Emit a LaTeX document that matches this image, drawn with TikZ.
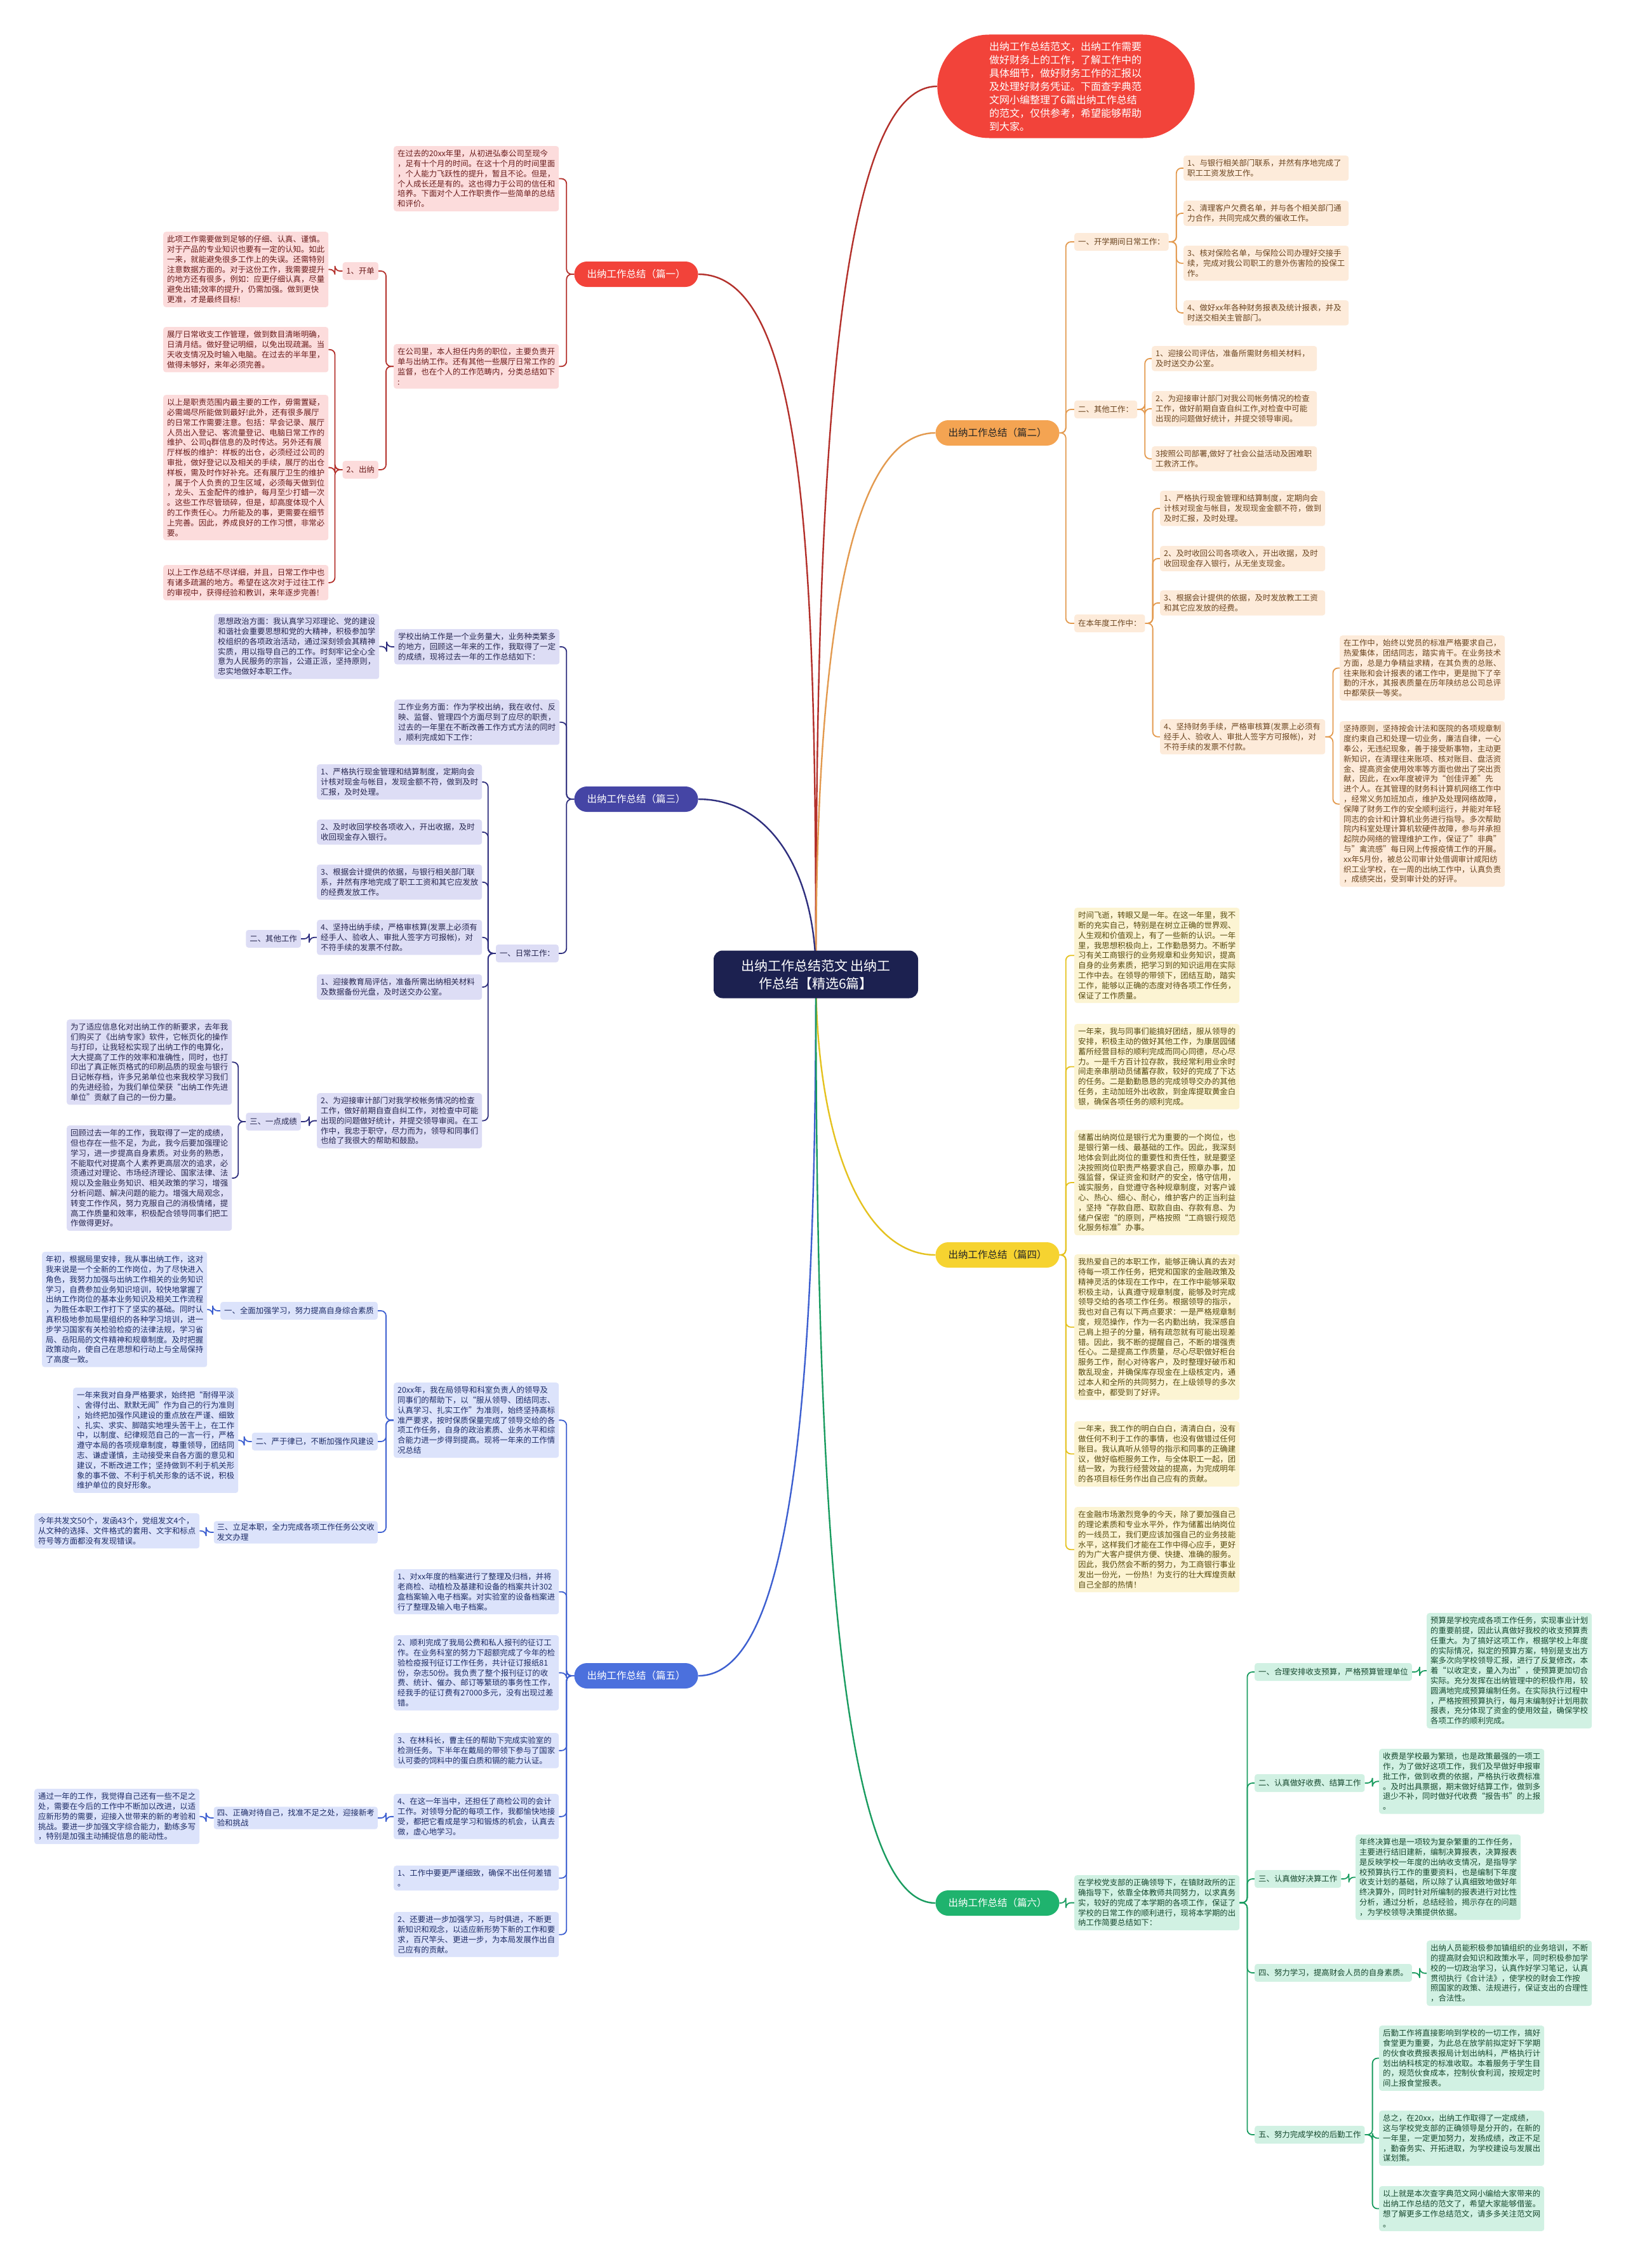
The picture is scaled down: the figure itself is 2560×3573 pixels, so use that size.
\documentclass[tikz,border=0pt]{standalone}
\usepackage{fontspec}
\setmainfont{Noto Sans CJK SC}
\usetikzlibrary{shapes.misc,calc,backgrounds}
\definecolor{crl}{HTML}{B3302B}\definecolor{crf}{HTML}{FCDCDC}\definecolor{crt}{HTML}{6A1C1C}\definecolor{crp}{HTML}{F2433A}
\definecolor{col}{HTML}{E39A4F}\definecolor{cof}{HTML}{FDEBDA}\definecolor{cot}{HTML}{6B4520}\definecolor{cop}{HTML}{F4A452}
\definecolor{cpl}{HTML}{2F2F7E}\definecolor{cpf}{HTML}{DDDDF5}\definecolor{cpt}{HTML}{26264F}\definecolor{cpp}{HTML}{4545A5}
\definecolor{cyl}{HTML}{E5C21F}\definecolor{cyf}{HTML}{FCF4D3}\definecolor{cyt}{HTML}{574A10}\definecolor{cyp}{HTML}{F6D330}
\definecolor{cbl}{HTML}{3D5FD0}\definecolor{cbf}{HTML}{DCE3FB}\definecolor{cbt}{HTML}{1E2C66}\definecolor{cbp}{HTML}{4B70DD}
\definecolor{cgl}{HTML}{1A9C60}\definecolor{cgf}{HTML}{D1F1E3}\definecolor{cgt}{HTML}{17492F}\definecolor{cgp}{HTML}{1FB36E}
\definecolor{ccen}{HTML}{1C2150}
\begin{document}
\begin{tikzpicture}[x=1pt,y=-1pt,
  tb/.style={rounded corners=4pt, inner xsep=6pt, inner ysep=6pt, align=left, anchor=north west, text width=248pt, font=\fontsize{12.4}{15.8}\selectfont},
  lb/.style={rounded corners=4pt, inner xsep=6pt, inner ysep=4pt, minimum height=28pt, font=\fontsize{12.4}{15.8}\selectfont},
  lb2/.style={lb, text width=248pt, align=left, inner xsep=5pt},
  pill/.style={rounded rectangle, minimum width=195pt, minimum height=40pt, inner sep=0pt, font=\fontsize{15.5}{18}\selectfont},
  R/.style={fill=crf, text=crt}, O/.style={fill=cof, text=cot}, P/.style={fill=cpf, text=cpt},
  Y/.style={fill=cyf, text=cyt}, B/.style={fill=cbf, text=cbt}, G/.style={fill=cgf, text=cgt},
  mc/.style={line width=2.4pt},
  cn/.style={line width=1.8pt, rounded corners=8pt}]
\useasboundingbox (0,0) rectangle (2560,3573);

% central
\node[fill=ccen, text=white, rounded corners=14pt, minimum width=322pt, minimum height=75pt, align=center, font=\fontsize{21}{28}\selectfont] (c) at (1285,1535) {出纳工作总结范文 出纳工\\作总结【精选6篇】};

% intro
\node[rounded rectangle, fill=crp, text=white, minimum width=412pt, minimum height=163pt, text width=242pt, align=left, font=\fontsize{16}{21}\selectfont] (intro) at (1679,136) {出纳工作总结范文，出纳工作需要\\做好财务上的工作，了解工作中的\\具体细节，做好财务工作的汇报以\\及处理好财务凭证。下面查字典范\\文网小编整理了6篇出纳工作总结\\的范文，仅供参考，希望能够帮助\\到大家。};

% pills
\node[pill, fill=crp, text=white] (p1) at (1002,432) {出纳工作总结（篇一）};
\node[pill, fill=cop, text=black!85] (p2) at (1571,682) {出纳工作总结（篇二）};
\node[pill, fill=cpp, text=white] (p3) at (1002,1259) {出纳工作总结（篇三）};
\node[pill, fill=cyp, text=black!85] (p4) at (1571,1977) {出纳工作总结（篇四）};
\node[pill, fill=cbp, text=white] (p5) at (1002,2640) {出纳工作总结（篇五）};
\node[pill, fill=cgp, text=white] (p6) at (1571,2998) {出纳工作总结（篇六）};

% ===== 篇一 =====
\node[tb,R] (a1) at (620,230) {在过去的20xx年里，从初进弘泰公司至现今\\，足有十个月的时间。在这十个月的时间里面\\，个人能力飞跃性的提升，暂且不论。但是，\\个人成长还是有的。这也得力于公司的信任和\\培养。下面对个人工作职责作一些简单的总结\\和评价。};
\node[tb,R] (a2) at (620,542) {在公司里，本人担任内务的职位，主要负责开\\单与出纳工作。还有其他一些展厅日常工作的\\监督，也在个人的工作范畴内，分类总结如下\\:};
\node[lb,R,anchor=east] (a21) at (596,427) {1、开单};
\node[lb,R,anchor=east] (a22) at (596,740) {2、出纳};
\node[tb,R] (a211) at (257,365) {此项工作需要做到足够的仔细、认真、谨慎。\\对于产品的专业知识也要有一定的认知。如此\\一来，就能避免很多工作上的失误。还需特别\\注意数据方面的。对于这份工作，我需要提升\\的地方还有很多，例如：应更仔细认真，尽量\\避免出错;效率的提升，仍需加强。做到更快\\更准，才是最终目标!};
\node[tb,R] (a221) at (257,515) {展厅日常收支工作管理，做到数目清晰明确，\\日清月结。做好登记明细，以免出现疏漏。当\\天收支情况及时输入电脑。在过去的半年里，\\做得未够好，来年必须完善。};
\node[tb,R] (a222) at (257,622) {以上是职责范围内最主要的工作，毋需置疑，\\必需竭尽所能做到最好!此外，还有很多展厅\\的日常工作需要注意。包括：早会记录、展厅\\人员出入登记、客流量登记、电脑日常工作的\\维护、公司q群信息的及时传达。另外还有展\\厅样板的维护：样板的出仓，必须经过公司的\\审批，做好登记以及相关的手续，展厅的出仓\\样板，需及时作好补充。还有展厅卫生的维护\\，属于个人负责的卫生区域，必须每天做到位\\，龙头、五金配件的维护，每月至少打蜡一次\\。这些工作尽管琐碎，但是，却高度体现个人\\的工作责任心。力所能及的事，更需要在细节\\上完善。因此，养成良好的工作习惯，非常必\\要。};
\node[tb,R] (a223) at (257,890) {以上工作总结不尽详细，并且，日常工作中也\\有诸多疏漏的地方。希望在这次对于过往工作\\的审视中，获得经验和教训，来年逐步完善!};

% ===== 篇二 =====
\node[lb,O,anchor=west] (b1) at (1692,381) {一、开学期间日常工作：};
\node[tb,O] (b11) at (1864,245) {1、与银行相关部门联系，并然有序地完成了\\职工工资发放工作。};
\node[tb,O] (b12) at (1864,316) {2、清理客户欠费名单，并与各个相关部门通\\力合作，共同完成欠费的催收工作。};
\node[tb,O] (b13) at (1864,387) {3、核对保险名单，与保险公司办理好交接手\\续，完成对我公司职工的意外伤害险的投保工\\作。};
\node[tb,O] (b14) at (1864,473) {4、做好xx年各种财务报表及统计报表，并及\\时送交相关主管部门。};
\node[lb,O,anchor=west] (b2) at (1692,645) {二、其他工作：};
\node[tb,O] (b21) at (1814,545) {1、迎接公司评估，准备所需财务相关材料，\\及时送交办公室。};
\node[tb,O] (b22) at (1814,616) {2、为迎接审计部门对我公司帐务情况的检查\\工作，做好前期自查自纠工作,对检查中可能\\出现的问题做好统计，并提交领导审阅。};
\node[tb,O] (b23) at (1814,703) {3按照公司部署,做好了社会公益活动及困难职\\工救济工作。};
\node[lb,O,anchor=west] (b3) at (1692,982) {在本年度工作中：};
\node[tb,O] (b31) at (1827,773) {1、严格执行现金管理和结算制度，定期向会\\计核对现金与帐目，发现现金金额不符，做到\\及时汇报，及时处理。};
\node[tb,O] (b32) at (1827,860) {2、及时收回公司各项收入，开出收据，及时\\收回现金存入银行，从无坐支现金。};
\node[tb,O] (b33) at (1827,930) {3、根据会计提供的依据，及时发放教工工资\\和其它应发放的经费。};
\node[tb,O] (b34) at (1827,1133) {4、坚持财务手续，严格审核算(发票上必须有\\经手人、验收人、审批人签字方可报帐)，对\\不符手续的发票不付款。};
\node[tb,O] (b341) at (2110,1001) {在工作中，始终以党员的标准严格要求自己，\\热爱集体，团结同志，踏实肯干。在业务技术\\方面，总是力争精益求精，在其负责的总账、\\往来账和会计报表的诸工作中，更是抛下了辛\\勤的汗水，其报表质量在历年陕纺总公司总评\\中都荣获一等奖。};
\node[tb,O] (b342) at (2110,1136) {坚持原则，坚持按会计法和医院的各项规章制\\度约束自己和处理一切业务，廉洁自律，一心\\奉公，无违纪现象，善于接受新事物，主动更\\新知识，在清理往来账项、核对账目、盘活资\\金、提高资金使用效率等方面也做出了突出贡\\献，因此，在xx年度被评为“创佳评差”先\\进个人。在其管理的财务科计算机网络工作中\\，经常义务加班加点，维护及处理网络故障，\\保障了财务工作的安全顺利运行，并能对年轻\\同志的会计和计算机业务进行指导。多次帮助\\院内科室处理计算机软硬件故障，参与并承担\\起院办网络的管理维护工作，保证了”非典”\\与”禽流感”每日网上传报疫情工作的开展。\\xx年5月份，被总公司审计处借调审计咸阳纺\\织工业学校，在一周的出纳工作中，认真负责\\，成绩突出，受到审计处的好评。};

% ===== 篇三 =====
\node[tb,P] (c1) at (621,991) {学校出纳工作是一个业务量大，业务种类繁多\\的地方，回顾这一年来的工作，我取得了一定\\的成绩，现将过去一年的工作总结如下：};
\node[tb,P] (c11) at (337,967) {思想政治方面：我认真学习邓理论、党的建设\\和谐社会重要思想和党的大精神，积极参加学\\校组织的各项政治活动，通过深刻领会其精神\\实质，用以指导自己的工作。时刻牢记全心全\\意为人民服务的宗旨，公道正派，坚持原则，\\忠实地做好本职工作。};
\node[tb,P] (c2) at (621,1102) {工作业务方面：作为学校出纳，我在收付、反\\映、监督、管理四个方面尽到了应尽的职责，\\过去的一年里在不断改善工作方式方法的同时\\，顺利完成如下工作：};
\node[lb,P,anchor=east] (c3) at (880,1502) {一、日常工作：};
\node[tb,P] (c31) at (499,1204) {1、严格执行现金管理和结算制度，定期向会\\计核对现金与帐目，发现金额不符，做到及时\\汇报，及时处理。};
\node[tb,P] (c32) at (499,1291) {2、及时收回学校各项收入，开出收据，及时\\收回现金存入银行。};
\node[tb,P] (c33) at (499,1362) {3、根据会计提供的依据，与银行相关部门联\\系，井然有序地完成了职工工资和其它应发放\\的经费发放工作。};
\node[tb,P] (c34) at (499,1449) {4、坚持出纳手续，严格审核算(发票上必须有\\经手人、验收人、审批人签字方可报帐)，对\\不符手续的发票不付款。};
\node[lb,P,anchor=east] (c341) at (474,1479) {二、其他工作};
\node[tb,P] (c35) at (499,1535) {1、迎接教育局评估，准备所需出纳相关材料\\及数据备份光盘，及时送交办公室。};
\node[tb,P] (c36) at (499,1722) {2、为迎接审计部门对我学校帐务情况的检查\\工作，做好前期自查自纠工作，对检查中可能\\出现的问题做好统计，并提交领导审阅。在工\\作中，我忠于职守，尽力而为，领导和同事们\\也给了我很大的帮助和鼓励。};
\node[lb,P,anchor=east] (c36l) at (474,1767) {三、一点成绩};
\node[tb,P] (c361) at (105,1606) {为了适应信息化对出纳工作的新要求，去年我\\们购买了《出纳专家》软件，它帐页化的操作\\与打印，让我轻松实现了出纳工作的电算化，\\大大提高了工作的效率和准确性，同时，也打\\印出了真正帐页格式的印刷品质的现金与银行\\日记帐存档，许多兄弟单位也来我校学习我们\\的先进经验，为我们单位荣获“出纳工作先进\\单位”贡献了自己的一份力量。};
\node[tb,P] (c362) at (105,1773) {回顾过去一年的工作，我取得了一定的成绩，\\但也存在一些不足，为此，我今后要加强理论\\学习，进一步提高自身素质。对业务的熟悉，\\不能取代对提高个人素养更高层次的追求，必\\须通过对理论、市场经济理论、国家法律、法\\规以及金融业务知识、相关政策的学习，增强\\分析问题、解决问题的能力。增强大局观念，\\转变工作作风，努力克服自己的消极情绪，提\\高工作质量和效率，积极配合领导同事们把工\\作做得更好。};

% ===== 篇四 =====
\node[tb,Y] (d1) at (1692,1430) {时间飞逝，转眼又是一年。在这一年里，我不\\断的充实自己，特别是在树立正确的世界观、\\人生观和价值观上，有了一些新的认识。一年\\里，我思想积极向上，工作勤恳努力。不断学\\习有关工商银行的业务规章和业务知识，提高\\自身的业务素质，把学习到的知识运用在实际\\工作中去。在领导的带领下，团结互助，踏实\\工作，能够以正确的态度对待各项工作任务，\\保证了工作质量。};
\node[tb,Y] (d2) at (1692,1613) {一年来，我与同事们能搞好团结，服从领导的\\安排，积极主动的做好其他工作，为康居园储\\蓄所经营目标的顺利完成而同心同德，尽心尽\\力。一是千方百计拉存款，我经常利用业余时\\间走亲串朋动员储蓄存款，较好的完成了下达\\的任务。二是勤勤恳恳的完成领导交办的其他\\任务，主动加班外出收款，到金库提取黄金白\\银，确保各项任务的顺利完成。};
\node[tb,Y] (d3) at (1692,1780) {储蓄出纳岗位是银行尤为重要的一个岗位，也\\是银行第一线、最基础的工作。因此，我深刻\\地体会到此岗位的重要性和责任性，就是要坚\\决按照岗位职责严格要求自己，照章办事，加\\强监督，保证资金和财产的安全，恪守信用，\\诚实服务，自觉遵守各种规章制度，对客户诚\\心、热心、细心、耐心，维护客户的正当利益\\，坚持“存款自愿、取款自由、存款有息、为\\储户保密“的原则，严格按照“工商银行规范\\化服务标准”办事。};
\node[tb,Y] (d4) at (1692,1976) {我热爱自己的本职工作，能够正确认真的去对\\待每一项工作任务，把党和国家的金融政策及\\精神灵活的体现在工作中，在工作中能够采取\\积极主动，认真遵守规章制度，能够及时完成\\领导交给的各项工作任务。根据领导的指示，\\我也对自己有以下两点要求：一是严格规章制\\度，规范操作，作为一名内勤出纳，我深感自\\己肩上担子的分量，稍有疏忽就有可能出现差\\错。因此，我不断的提醒自己，不断的增强责\\任心。二是提高工作质量，尽心尽职做好柜台\\服务工作，耐心对待客户，及时整理好破币和\\散乱现金，并确保库存现金在上级核定内，通\\过本人和全所的共同努力，在上级领导的多次\\检查中，都受到了好评。};
\node[tb,Y] (d5) at (1692,2239) {一年来，我工作的明白白白，清清白白，没有\\做任何不利于工作的事情，也没有做错过任何\\账目。我认真听从领导的指示和同事的正确建\\议，做好临柜服务工作，与全体职工一起，团\\结一致，为我行经营效益的提高，为完成明年\\的各项目标任务作出自己应有的贡献。};
\node[tb,Y] (d6) at (1692,2374) {在金融市场激烈竞争的今天，除了要加强自己\\的理论素质和专业水平外，作为储蓄出纳岗位\\的一线员工，我们更应该加强自己的业务技能\\水平，这样我们才能在工作中得心应手，更好\\的为广大客户提供方便、快捷、准确的服务。\\因此，我仍然会不断的努力，为工商银行事业\\发出一份光，一份热！为支行的壮大辉煌贡献\\自己全部的热情！};

% ===== 篇五 =====
\node[tb,B] (e1) at (620,2178) {20xx年，我在局领导和科室负责人的领导及\\同事们的帮助下，以“服从领导、团结同志、\\认真学习、扎实工作”为准则，始终坚持高标\\准严要求，按时保质保量完成了领导交给的各\\项工作任务，自身的政治素质、业务水平和综\\合能力进一步得到提高。现将一年来的工作情\\况总结};
\node[lb,B,anchor=east] (e11) at (595,2065) {一、全面加强学习，努力提高自身综合素质};
\node[tb,B] (e111) at (66,1972) {年初，根据局里安排，我从事出纳工作，这对\\我来说是一个全新的工作岗位，为了尽快进入\\角色，我努力加强与出纳工作相关的业务知识\\学习，自费参加业务知识培训，较快地掌握了\\出纳工作岗位的基本业务知识及相关工作流程\\，为胜任本职工作打下了坚实的基础。同时认\\真积极地参加局里组织的各种学习培训，进一\\步学习国家有关检验检疫的法律法规，学习省\\局、岳阳局的文件精神和规章制度。及时把握\\政策动向，使自己在思想和行动上与全局保持\\了高度一致。};
\node[lb,B,anchor=east] (e12) at (595,2271) {二、严于律已，不断加强作风建设};
\node[tb,B] (e121) at (115,2186) {一年来我对自身严格要求，始终把“耐得平淡\\、舍得付出、默默无闻”作为自己的行为准则\\，始终把加强作风建设的重点放在严谨、细致\\、扎实、求实、脚踏实地埋头苦干上，在工作\\中，以制度、纪律规范自己的一言一行，严格\\遵守本局的各项规章制度，尊重领导，团结同\\志、谦虚谨慎，主动接受来自各方面的意见和\\建议，不断改进工作；坚持做到不利于机关形\\象的事不做、不利于机关形象的话不说，积极\\维护单位的良好形象。};
\node[lb2,B,anchor=east] (e13) at (595,2414) {三、立足本职，全力完成各项工作任务公文收\\发文办理};
\node[tb,B] (e131) at (54,2384) {今年共发文50个，发函43个，党组发文4个，\\从文种的选择、文件格式的套用、文字和标点\\符号等方面都没有发现错误。};
\node[tb,B] (e2) at (620,2472) {1、对xx年度的档案进行了整理及归档，并将\\老商检、动植检及基建和设备的档案共计302\\盒档案输入电子档案。对实验室的设备档案进\\行了整理及输入电子档案。};
\node[tb,B] (e3) at (620,2576) {2、顺利完成了我局公费和私人报刊的征订工\\作。在业务科室的努力下超额完成了今年的检\\验检疫报刊征订工作任务，共计征订报纸81\\份，杂志50份。我负责了整个报刊征订的收\\费、统计、催办、邮订等繁琐的事务性工作，\\经我手的征订费有27000多元，没有出现过差\\错。};
\node[tb,B] (e4) at (620,2730) {3、在林科长，曹主任的帮助下完成实验室的\\检测任务。下半年在戴局的带领下参与了国家\\认可委的饲料中的蛋白质和镉的能力认证。};
\node[tb,B] (e5) at (620,2826) {4、在这一年当中，还担任了商检公司的会计\\工作。对领导分配的每项工作，我都愉快地接\\受，都把它看成是学习和锻炼的机会，认真去\\做，虚心地学习。};
\node[lb2,B,anchor=east] (e51) at (595,2864) {四、正确对待自己，找准不足之处，迎接新考\\验和挑战};
\node[tb,B] (e511) at (54,2818) {通过一年的工作，我觉得自己还有一些不足之\\处，需要在今后的工作中不断加以改进，以适\\应新形势的需要，迎接入世带来的新的考验和\\挑战。要进一步加强文字综合能力，勤练多写\\，特别是加强主动捕捉信息的能动性。};
\node[tb,B] (e6) at (620,2939) {1、工作中要更严谨细致，确保不出任何差错\\。};
\node[tb,B] (e7) at (620,3012) {2、还要进一步加强学习，与时俱进，不断更\\新知识和观念，以适应新形势下新的工作和要\\求，百尺竿头、更进一步，为本局发展作出自\\己应有的贡献。};

% ===== 篇六 =====
\node[tb,G] (f1) at (1692,2954) {在学校党支部的正确领导下，在镇财政所的正\\确指导下，依靠全体教师共同努力，以求真务\\实，较好的完成了本学期的各项工作，保证了\\学校的日常工作的顺利进行，现将本学期的出\\纳工作简要总结如下：};
\node[lb,G,anchor=west] (f11) at (1976,2634) {一、合理安排收支预算，严格预算管理单位};
\node[tb,G] (f111) at (2247,2541) {预算是学校完成各项工作任务，实现事业计划\\的重要前提，因此认真做好我校的收支预算责\\任重大。为了搞好这项工作，根据学校上年度\\的实际情况，拟定的预算方案，特别是支出方\\案多次向学校领导汇报，进行了反复修改，本\\着“以收定支，量入为出”，使预算更加切合\\实际。充分发挥在出纳管理中的积极作用，较\\圆满地完成预算编制任务。在实际执行过程中\\，严格按照预算执行，每月末编制好计划用款\\报表，充分体现了资金的使用效益，确保学校\\各项工作的顺利完成。};
\node[lb,G,anchor=west] (f12) at (1976,2809) {二、认真做好收费、结算工作};
\node[tb,G] (f121) at (2172,2755) {收费是学校最为繁琐，也是政策最强的一项工\\作，为了做好这项工作，我们及早做好申报审\\批工作，做到收费的依据，严格执行收费标准\\。及时出具票据，期末做好结算工作，做到多\\退少不补，同时做好代收费“报告书”的上报\\。};
\node[lb,G,anchor=west] (f13) at (1976,2960) {三、认真做好决算工作};
\node[tb,G] (f131) at (2135,2890) {年终决算也是一项较为复杂繁重的工作任务，\\主要进行结旧建新，编制决算报表，决算报表\\是反映学校一年度的出纳收支情况，是指导学\\校预算执行工作的重要资料，也是编制下年度\\收支计划的基础，所以除了认真细致地做好年\\终决算外，同时针对所编制的报表进行对比性\\分析，通过分析，总结经验，揭示存在的问题\\，为学校领导决策提供依据。};
\node[lb,G,anchor=west] (f14) at (1976,3108) {四、努力学习，提高财会人员的自身素质。};
\node[tb,G] (f141) at (2247,3057) {出纳人员能积极参加镇组织的业务培训，不断\\的提高财会知识和政策水平，同时积极参加学\\校的一切政治学习，认真作好学习笔记，认真\\贯彻执行《合计法》，使学校的财会工作按\\照国家的政策、法规进行，保证支出的合理性\\，合法性。};
\node[lb,G,anchor=west] (f15) at (1976,3363) {五、努力完成学校的后勤工作};
\node[tb,G] (f151) at (2172,3191) {后勤工作将直接影响到学校的一切工作，搞好\\食堂更为重要，为此总在放学前拟定好下学期\\的伙食收费报表报局计划出纳科，严格执行计\\划出纳科核定的标准收取。本着服务于学生目\\的，规范伙食成本，控制伙食利润，按规定时\\间上报食堂报表。};
\node[tb,G] (f152) at (2172,3325) {总之，在20xx，出纳工作取得了一定成绩，\\这与学校党支部的正确领导是分开的，在新的\\一年里，一定更加努力，发扬成绩，改正不足\\，勤奋务实、开拓进取，为学校建设与发展出\\谋划策。};
\node[tb,G] (f153) at (2172,3444) {以上就是本次查字典范文网小编给大家带来的\\出纳工作总结的范文了，希望大家能够借鉴。\\想了解更多工作总结范文，请多多关注范文网\\。};

\begin{scope}[on background layer]
\fill[white] (0,0) rectangle (2560,3573);
% central connectors
\draw[mc,crl] (c.center) .. controls ($(c.center)+(0,-700)$) and ($(intro.west)+(-170,0)$) .. (intro.west);
\draw[mc,crl] (c.center) .. controls ($(c.center)+(0,-650)$) and ($(p1.east)+(170,0)$) .. (p1.east);
\draw[mc,col] (c.center) .. controls ($(c.center)+(0,-450)$) and ($(p2.west)+(-150,0)$) .. (p2.west);
\draw[mc,cpl] (c.center) .. controls ($(c.center)+(0,-150)$) and ($(p3.east)+(120,0)$) .. (p3.east);
\draw[mc,cyl] (c.center) .. controls ($(c.center)+(0,250)$) and ($(p4.west)+(-120,0)$) .. (p4.west);
\draw[mc,cbl] (c.center) .. controls ($(c.center)+(0,650)$) and ($(p5.east)+(150,0)$) .. (p5.east);
\draw[mc,cgl] (c.center) .. controls ($(c.center)+(0,850)$) and ($(p6.west)+(-150,0)$) .. (p6.west);
% 篇一
\foreach \t in {a1,a2} \draw[cn,crl] (p1.west) -- ++(-12,0) |- (\t.east);
\foreach \t in {a21,a22} \draw[cn,crl] (a2.west) -- ++(-12,0) |- (\t.east);
\draw[cn,crl] (a21.west) -- ++(-12,0) |- (a211.east);
\foreach \t in {a221,a222,a223} \draw[cn,crl] (a22.west) -- ++(-12,0) |- (\t.east);
% 篇二
\foreach \t in {b1,b2,b3} \draw[cn,col] (p2.east) -- ++(10,0) |- (\t.west);
\foreach \t in {b11,b12,b13,b14} \draw[cn,col] (b1.east) -- ++(12,0) |- (\t.west);
\foreach \t in {b21,b22,b23} \draw[cn,col] (b2.east) -- ++(12,0) |- (\t.west);
\foreach \t in {b31,b32,b33,b34} \draw[cn,col] (b3.east) -- ++(12,0) |- (\t.west);
\foreach \t in {b341,b342} \draw[cn,col] (b34.east) -- ++(12,0) |- (\t.west);
% 篇三
\foreach \t in {c1,c2,c3} \draw[cn,cpl] (p3.west) -- ++(-12,0) |- (\t.east);
\draw[cn,cpl] (c1.west) -- ++(-12,0) |- (c11.east);
\foreach \t in {c31,c32,c33,c34,c35,c36} \draw[cn,cpl] (c3.west) -- ++(-12,0) |- (\t.east);
\draw[cn,cpl] (c34.west) -- ++(-12,0) |- (c341.east);
\draw[cn,cpl] (c36.west) -- ++(-12,0) |- (c36l.east);
\foreach \t in {c361,c362} \draw[cn,cpl] (c36l.west) -- ++(-12,0) |- (\t.east);
% 篇四
\foreach \t in {d1,d2,d3,d4,d5,d6} \draw[cn,cyl] (p4.east) -- ++(10,0) |- (\t.west);
% 篇五
\foreach \t in {e1,e2,e3,e4,e5,e6,e7} \draw[cn,cbl] (p5.west) -- ++(-12,0) |- (\t.east);
\foreach \t in {e11,e12,e13} \draw[cn,cbl] (e1.west) -- ++(-12,0) |- (\t.east);
\draw[cn,cbl] (e11.west) -- ++(-12,0) |- (e111.east);
\draw[cn,cbl] (e12.west) -- ++(-12,0) |- (e121.east);
\draw[cn,cbl] (e13.west) -- ++(-12,0) |- (e131.east);
\draw[cn,cbl] (e5.west) -- ++(-12,0) |- (e51.east);
\draw[cn,cbl] (e51.west) -- ++(-12,0) |- (e511.east);
% 篇六
\draw[cn,cgl] (p6.east) -- ++(10,0) |- (f1.west);
\foreach \t in {f11,f12,f13,f14,f15} \draw[cn,cgl] (f1.east) -- ++(12,0) |- (\t.west);
\draw[cn,cgl] (f11.east) -- ++(12,0) |- (f111.west);
\draw[cn,cgl] (f12.east) -- ++(12,0) |- (f121.west);
\draw[cn,cgl] (f13.east) -- ++(12,0) |- (f131.west);
\draw[cn,cgl] (f14.east) -- ++(12,0) |- (f141.west);
\foreach \t in {f151,f152,f153} \draw[cn,cgl] (f15.east) -- ++(12,0) |- (\t.west);
\end{scope}
\end{tikzpicture}
\end{document}
